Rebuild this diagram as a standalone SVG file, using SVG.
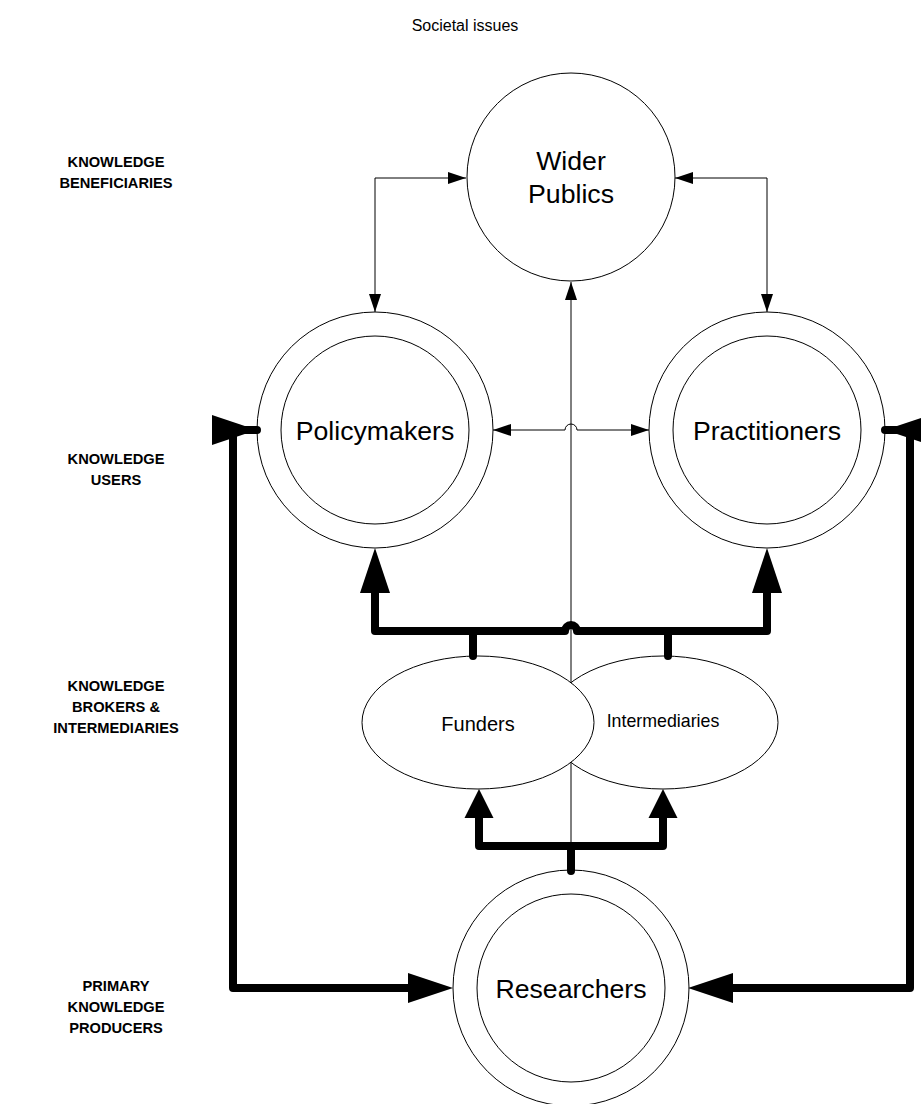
<svg xmlns="http://www.w3.org/2000/svg" width="921" height="1104" viewBox="0 0 921 1104">
<style>
.node{fill:#fff;stroke:#000;stroke-width:1}
.thin{fill:none;stroke:#000;stroke-width:1}
.thick{fill:none;stroke:#000;stroke-width:8;stroke-linecap:round;stroke-linejoin:round}
.t{font-family:"Liberation Sans",Arial,sans-serif;fill:#000;text-anchor:middle}
.big{font-size:26.67px}
.side{font-size:14.67px;font-weight:bold}
</style>
<defs>
<marker id="thinA" markerUnits="userSpaceOnUse" markerWidth="18" markerHeight="12" refX="18" refY="6" orient="auto-start-reverse" overflow="visible"><path d="M0,0 L18,6 L0,12 Z" fill="#000"/></marker>
<marker id="tkBase" markerUnits="userSpaceOnUse" markerWidth="45" markerHeight="30" refX="0" refY="15" orient="auto-start-reverse" overflow="visible"><path d="M0,0 L45,15 L0,30 Z" fill="#000"/></marker>
<marker id="tkTip" markerUnits="userSpaceOnUse" markerWidth="45" markerHeight="30" refX="45" refY="15" orient="auto-start-reverse" overflow="visible"><path d="M0,0 L45,15 L0,30 Z" fill="#000"/></marker>
<marker id="tkS" markerUnits="userSpaceOnUse" markerWidth="29" markerHeight="29" refX="0" refY="14.5" orient="auto-start-reverse" overflow="visible"><path d="M0,0 L29,14.5 L0,29 Z" fill="#000"/></marker>
</defs>

<text class="t" x="465" y="31" style="font-size:16px">Societal issues</text>

<g id="label-beneficiaries"><text class="t side" x="116" y="167">KNOWLEDGE</text><text class="t side" x="116" y="188">BENEFICIARIES</text></g>
<g id="label-users"><text class="t side" x="116" y="464">KNOWLEDGE</text><text class="t side" x="116" y="485">USERS</text></g>
<g id="label-brokers"><text class="t side" x="116" y="691">KNOWLEDGE</text><text class="t side" x="116" y="712">BROKERS &amp;</text><text class="t side" x="116" y="733">INTERMEDIARIES</text></g>
<g id="label-producers"><text class="t side" x="116" y="991">PRIMARY</text><text class="t side" x="116" y="1012">KNOWLEDGE</text><text class="t side" x="116" y="1033">PRODUCERS</text></g>

<g id="wider-publics">
<circle class="node" cx="571" cy="177" r="104"/>
<text class="t big" x="571" y="170">Wider</text>
<text class="t big" x="571" y="203">Publics</text>
</g>
<g id="policymakers">
<circle class="node" cx="375" cy="430" r="118"/>
<circle class="node" cx="375" cy="430" r="94"/>
<text class="t big" x="375" y="439.5">Policymakers</text>
</g>
<g id="practitioners">
<circle class="node" cx="767" cy="430" r="118"/>
<circle class="node" cx="767" cy="430" r="94"/>
<text class="t big" x="767" y="439.5">Practitioners</text>
</g>
<g id="intermediaries">
<ellipse class="node" cx="663" cy="722.5" rx="115" ry="66.5"/>
<text class="t" x="663" y="727" style="font-size:17.8px">Intermediaries</text>
</g>
<g id="funders">
<ellipse class="node" cx="478" cy="722.5" rx="116" ry="66.5"/>
<text class="t" x="478" y="731" style="font-size:20px">Funders</text>
</g>
<g id="researchers">
<circle class="node" cx="571" cy="988" r="118"/>
<circle class="node" cx="571" cy="988" r="94"/>
<text class="t big" x="571" y="997.5">Researchers</text>
</g>

<g id="connectors">
<path class="thin" d="M466,178 L375,178 L375,312" marker-start="url(#thinA)" marker-end="url(#thinA)"/>
<path class="thin" d="M675,178 L767,178 L767,312" marker-start="url(#thinA)" marker-end="url(#thinA)"/>
<path class="thin" d="M493,430 L565,430 A6,6 0 0 1 577,430 L649,430" marker-start="url(#thinA)" marker-end="url(#thinA)"/>
<path class="thin" d="M571,871 L571,763"/>
<path class="thin" d="M571,682 L571,282" marker-end="url(#thinA)"/>
<path class="thick" d="M473,656 L473,631 L375,631 L375,593" marker-end="url(#tkBase)"/>
<path class="thick" d="M668,656 L668,631 L767,631 L767,593" marker-end="url(#tkBase)"/>
<path class="thick" d="M473,631 L565,631 A6,6 0 0 1 577,631 L668,631"/>
<path class="thick" d="M571,871 L571,846 L479,846 L479,818" marker-end="url(#tkS)"/>
<path class="thick" d="M571,846 L663,846 L663,818" marker-end="url(#tkS)"/>
<path class="thick" d="M408,988 L233,988 L233,430 L257,430" marker-start="url(#tkBase)" marker-end="url(#tkTip)"/>
<path class="thick" d="M733,988 L910,988 L910,430 L885,430" marker-start="url(#tkBase)" marker-end="url(#tkTip)"/>
</g>
</svg>
